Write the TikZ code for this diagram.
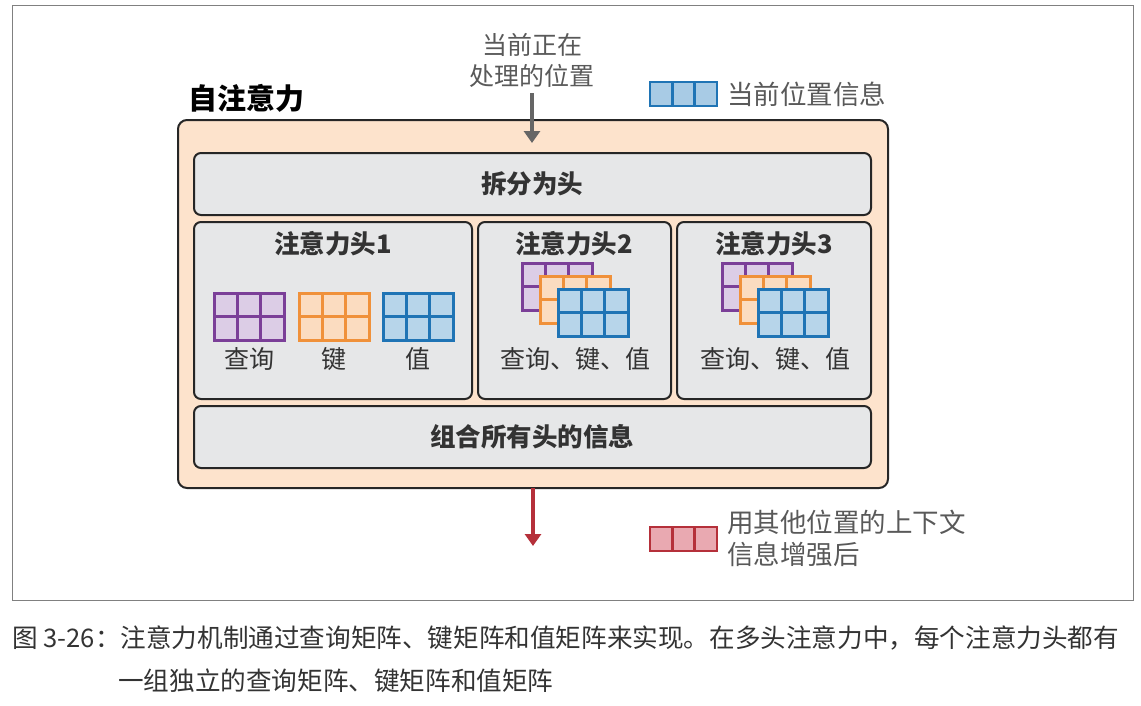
\documentclass[tikz,border=0pt]{standalone}
\usepackage{fontspec}
\setmainfont{Noto Sans CJK SC}
\usetikzlibrary{arrows.meta}
\definecolor{pu}{HTML}{7B3F98}\definecolor{puf}{HTML}{DCCDE6}
\definecolor{or}{HTML}{F0913A}\definecolor{orf}{HTML}{FBDCC0}
\definecolor{bl}{HTML}{1F74B5}\definecolor{blf}{HTML}{B7D5EA}
\definecolor{rd}{HTML}{B5303A}\definecolor{rdf}{HTML}{E9A9B1}
\definecolor{peach}{HTML}{FDE3CC}\definecolor{gbox}{HTML}{E6E7E8}
\definecolor{txt}{HTML}{333333}
\tikzset{
 box/.style={draw=black!85,line width=2pt,rounded corners=7pt,fill=gbox},
 lbl/.style={font=\fontsize{25}{29}\selectfont,text=txt,inner sep=0pt},
 ttl/.style={font=\fontsize{25.5}{29}\selectfont\bfseries,text=txt,inner sep=0pt},
 pics/mat/.style 2 args={code={
   \fill[#2] (0,0) rectangle (70,47);
   \draw[#1,line width=3pt] (0,0) rectangle (70,47) (0,23.5)--(70,23.5) (23.3,0)--(23.3,47) (46.7,0)--(46.7,47);}},
 pics/strip/.style 2 args={code={
   \fill[#2] (0,0) rectangle (67,24);
   \draw[#1,line width=2.5pt] (0,0) rectangle (67,24) (22.3,0)--(22.3,24) (44.7,0)--(44.7,24);}}
}
\begin{document}
\begin{tikzpicture}[x=1pt,y=-1pt]
\useasboundingbox (0,0) rectangle (1141,705);
\draw[gray,line width=1pt] (12,5) rectangle (1133,600);
\node[ttl,font=\fontsize{29}{32}\selectfont\bfseries,text=black,anchor=west] (title) at (188,98) {自注意力};
\node[lbl,text=black!65] (cur1) at (532,45) {当前正在};
\node[lbl,text=black!65] (cur2) at (532,76) {处理的位置};
\draw[box,fill=peach,rounded corners=9pt] (178,120) rectangle (888,488);
\coordinate (peachtop) at (532,143);
\coordinate (peachbot) at (533,488);
\coordinate (outend) at (533,546);
\draw[black!60,line width=4pt,-{Triangle[length=12pt,width=16pt]}] (532,93) -- (peachtop);
\draw[rd,line width=4pt,-{Triangle[length=12pt,width=16pt]}] (peachbot) -- (outend);
\draw[box] (194,153) rectangle (871,215);
\node[ttl] (split) at (532,184) {拆分为头};
\draw[box] (194,222) rectangle (472,399);
\draw[box] (478,222) rectangle (671,399);
\draw[box] (677,222) rectangle (871,399);
\draw[box] (194,406) rectangle (871,468);
\node[ttl] (comb) at (532,437) {组合所有头的信息};
\node[ttl] (h1) at (333,244) {注意力头1};
\node[ttl] (h2) at (574,244) {注意力头2};
\node[ttl] (h3) at (774,244) {注意力头3};
\pic at (214,293) {mat={pu}{puf}};
\pic at (299,293) {mat={or}{orf}};
\pic at (383,293) {mat={bl}{blf}};
\node[lbl] (q) at (249,359) {查询};
\node[lbl] (k) at (334,359) {键};
\node[lbl] (v) at (418,359) {值};
\foreach \dx in {0,200}{
 \pic at (522+\dx,263) {mat={pu}{puf}};
 \pic at (540+\dx,276) {mat={or}{orf}};
 \pic at (558+\dx,289) {mat={bl}{blf}};
}
\node[lbl] (qkv2) at (575,359) {查询、键、值};
\node[lbl] (qkv3) at (775,359) {查询、键、值};
\pic at (650,82) {strip={bl}{blf!90!bl}};
\node[lbl,text=black!65,anchor=west,font=\fontsize{26.5}{30}\selectfont] (leg1) at (727,94) {当前位置信息};
\pic at (650,527) {strip={rd}{rdf}};
\node[lbl,text=black!65,anchor=west,font=\fontsize{26.5}{30}\selectfont] (leg2a) at (727,522) {用其他位置的上下文};
\node[lbl,text=black!65,anchor=west,font=\fontsize{26.5}{30}\selectfont] (leg2b) at (727,554) {信息增强后};
\node[lbl,text=black!80,anchor=west,font=\fontsize{25.6}{30}\selectfont] (cap1) at (12,638) {图 3-26：注意力机制通过查询矩阵、键矩阵和值矩阵来实现。在多头注意力中，每个注意力头都有};
\node[lbl,text=black!80,anchor=west,font=\fontsize{25.6}{30}\selectfont] (cap2) at (118,681) {一组独立的查询矩阵、键矩阵和值矩阵};
\end{tikzpicture}
\end{document}
